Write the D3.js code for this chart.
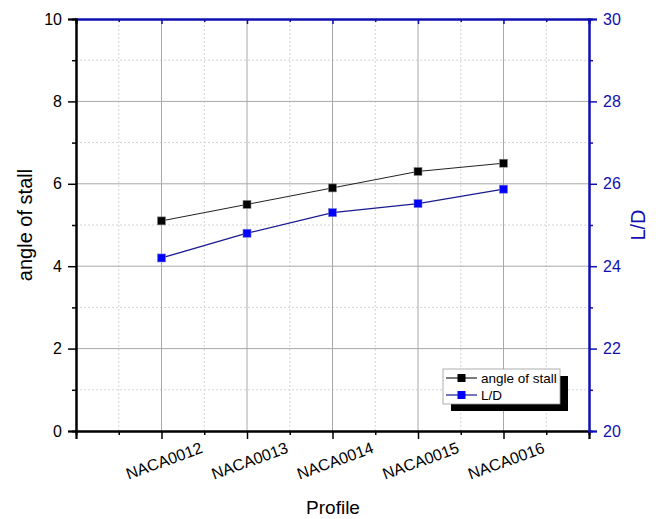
<!DOCTYPE html>
<html>
<head>
<meta charset="utf-8">
<script src="https://cdn.jsdelivr.net/npm/d3@7"></script>
<style>
  body { margin: 0; background: #fff; }
  text { font-family: Arial, "Liberation Sans", sans-serif; }
</style>
</head>
<body>
<svg id="chart" width="656" height="519"></svg>
<script>
// chart data
const profiles = ["NACA0012", "NACA0013", "NACA0014", "NACA0015", "NACA0016"];
const stallAngle = [5.1, 5.5, 5.9, 6.3, 6.5];
const liftDrag = [24.2, 24.8, 25.3, 25.52, 25.87];
const leftTicks = [0, 2, 4, 6, 8, 10];
const rightTicks = [20, 22, 24, 26, 28, 30];

const svg = d3.select("#chart");
const margin = { top: 19, right: 67, bottom: 88, left: 76 };
const W = 656, H = 519;

const x = d3.scaleLinear().domain([0, profiles.length + 1]).range([margin.left, W - margin.right]);
const y = d3.scaleLinear().domain([0, 10]).range([H - margin.bottom, margin.top]);
const y2 = d3.scaleLinear().domain([20, 30]).range([H - margin.bottom, margin.top]);

const blue = "#1010b0";
const majorX = d3.range(0, profiles.length + 2);
const minorX = majorX.slice(0, -1).map(d => d + 0.5);
const minorY = [1, 3, 5, 7, 9];

// grid
const grid = svg.append("g");
grid.selectAll(".vmin").data(minorX).join("line")
  .attr("x1", d => x(d)).attr("x2", d => x(d))
  .attr("y1", y(0)).attr("y2", y(10))
  .attr("stroke", "#d4d4d4").attr("stroke-dasharray", "2,2");
grid.selectAll(".hmin").data(minorY).join("line")
  .attr("x1", x(0)).attr("x2", x(6))
  .attr("y1", d => y(d)).attr("y2", d => y(d))
  .attr("stroke", "#d4d4d4").attr("stroke-dasharray", "2,2");
grid.selectAll(".vmaj").data(majorX.slice(1, -1)).join("line")
  .attr("x1", d => x(d)).attr("x2", d => x(d))
  .attr("y1", y(0)).attr("y2", y(10))
  .attr("stroke", "#a8a8a8");
grid.selectAll(".hmaj").data(leftTicks.slice(1, -1)).join("line")
  .attr("x1", x(0)).attr("x2", x(6))
  .attr("y1", d => y(d)).attr("y2", d => y(d))
  .attr("stroke", "#a8a8a8");

// axes
function styleAxis(g, color, fs) {
  g.select(".domain").attr("stroke", color).attr("stroke-width", 2);
  g.selectAll(".tick line").attr("stroke", color).attr("stroke-width", 1.5);
  g.selectAll(".tick text").attr("fill", color).attr("font-size", fs);
}

// bottom
const xb = svg.append("g").attr("transform", `translate(0,${y(0)})`)
  .call(d3.axisBottom(x).tickValues(minorX).tickSize(4).tickFormat(""));
styleAxis(xb, "#000");
const xbm = svg.append("g").attr("transform", `translate(0,${y(0)})`)
  .call(d3.axisBottom(x).tickValues(majorX).tickSize(8)
    .tickFormat(d => profiles[d - 1] || ""));
styleAxis(xbm, "#000", "16px");
xbm.selectAll(".tick text")
  .attr("text-anchor", "middle")
  .attr("dy", 0).attr("y", 0)
  .attr("transform", "translate(4,35) rotate(-20)");

// top
const xt = svg.append("g").attr("transform", `translate(0,${y(10)})`)
  .call(d3.axisTop(x).tickValues(minorX).tickSize(-3).tickFormat(""));
styleAxis(xt, blue);
const xtm = svg.append("g").attr("transform", `translate(0,${y(10)})`)
  .call(d3.axisTop(x).tickValues(majorX).tickSize(-5).tickFormat(""));
styleAxis(xtm, blue);

// left
const yl = svg.append("g").attr("transform", `translate(${x(0)},0)`)
  .call(d3.axisLeft(y).tickValues(minorY).tickSize(4).tickFormat(""));
styleAxis(yl, "#000");
const ylm = svg.append("g").attr("transform", `translate(${x(0)},0)`)
  .call(d3.axisLeft(y).tickValues(leftTicks).tickSize(8).tickPadding(6));
styleAxis(ylm, "#000", "16px");

// right
const yr = svg.append("g").attr("transform", `translate(${x(6)},0)`)
  .call(d3.axisRight(y2).tickValues(minorY.map(d => d + 20)).tickSize(4).tickFormat(""));
styleAxis(yr, blue);
const yrm = svg.append("g").attr("transform", `translate(${x(6)},0)`)
  .call(d3.axisRight(y2).tickValues(rightTicks).tickSize(8).tickPadding(6));
styleAxis(yrm, blue, "16px");

// series
const idx = profiles.map((p, i) => i + 1);
const lineL = d3.line().x(d => x(d[0])).y(d => y(d[1]));
const lineR = d3.line().x(d => x(d[0])).y(d => y2(d[1]));

svg.append("path").datum(idx.map((d, i) => [d, stallAngle[i]]))
  .attr("d", lineL).attr("fill", "none").attr("stroke", "#222").attr("stroke-width", 1);
svg.append("path").datum(idx.map((d, i) => [d, liftDrag[i]]))
  .attr("d", lineR).attr("fill", "none").attr("stroke", "#1a1a90").attr("stroke-width", 1.3);

const ms = 8;
svg.selectAll(".mk1").data(stallAngle).join("rect")
  .attr("x", (d, i) => x(idx[i]) - ms / 2).attr("y", d => y(d) - ms / 2)
  .attr("width", ms).attr("height", ms)
  .attr("fill", "#000").attr("stroke", "#888").attr("stroke-width", 0.6);
svg.selectAll(".mk2").data(liftDrag).join("rect")
  .attr("x", (d, i) => x(idx[i]) - ms / 2).attr("y", d => y2(d) - ms / 2)
  .attr("width", ms).attr("height", ms)
  .attr("fill", "#0000ff").attr("stroke", "#7777cc").attr("stroke-width", 0.6);

// axis titles
svg.append("text").text("angle of stall")
  .attr("transform", `translate(32,${(y(0) + y(10)) / 2}) rotate(-90)`)
  .attr("text-anchor", "middle").attr("font-size", "20px").attr("fill", "#000");
svg.append("text").text("L/D")
  .attr("transform", `translate(645,${(y(0) + y(10)) / 2}) rotate(-90)`)
  .attr("text-anchor", "middle").attr("font-size", "20px").attr("fill", blue);
svg.append("text").text("Profile")
  .attr("x", 333).attr("y", 514)
  .attr("text-anchor", "middle").attr("font-size", "19px").attr("fill", "#000");

// legend
const lg = svg.append("g").attr("transform", "translate(443,369)");
lg.append("rect").attr("x", 8).attr("y", 7).attr("width", 117).attr("height", 35).attr("fill", "#000");
lg.append("rect").attr("x", 0).attr("y", 0).attr("width", 117).attr("height", 35)
  .attr("fill", "#fff").attr("stroke", "#999").attr("stroke-width", 0.8);
const items = [
  { name: "angle of stall", line: "#222", fill: "#000" },
  { name: "L/D", line: "#1a1a90", fill: "#0000ff" }
];
items.forEach((it, i) => {
  const cy = 9 + i * 17;
  lg.append("line").attr("x1", 3).attr("x2", 34).attr("y1", cy).attr("y2", cy)
    .attr("stroke", it.line).attr("stroke-width", 1.2);
  lg.append("rect").attr("x", 18.5 - 4).attr("y", cy - 4).attr("width", 8).attr("height", 8)
    .attr("fill", it.fill);
  lg.append("text").text(it.name).attr("x", 38).attr("y", cy + 5)
    .attr("font-size", "13.5px").attr("fill", "#000");
});
</script>
</body>
</html>
